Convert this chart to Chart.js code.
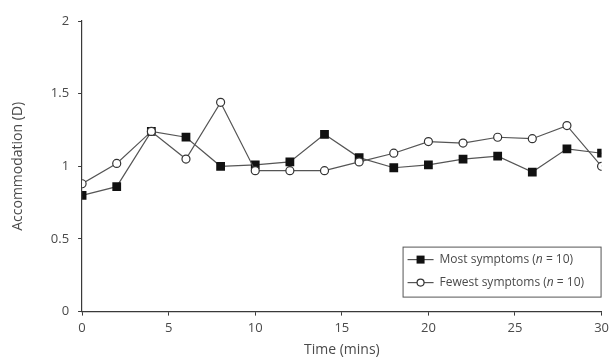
<!DOCTYPE html>
<html>
<head>
<meta charset="utf-8">
<script src="https://cdn.jsdelivr.net/npm/chart.js@4"></script>
<style>
  html, body { margin: 0; padding: 0; background: #fff; }
  #wrap { width: 614px; height: 363px; }
</style>
</head>
<body>
<div id="wrap"><canvas id="chart" width="614" height="363"></canvas></div>
<script>
const timeMins = [0, 2, 4, 6, 8, 10, 12, 14, 16, 18, 20, 22, 24, 26, 28, 30]
const mostSymptoms = [0.80, 0.86, 1.24, 1.20, 1.00, 1.01, 1.03, 1.22, 1.06, 0.99, 1.01, 1.05, 1.07, 0.96, 1.12, 1.09]
const fewestSymptoms = [0.88, 1.02, 1.24, 1.05, 1.44, 0.97, 0.97, 0.97, 1.03, 1.09, 1.17, 1.16, 1.20, 1.19, 1.28, 1.00]
const xTicks = [0, 5, 10, 15, 20, 25, 30]
const yTicks = [0, 0.5, 1, 1.5, 2]
const seriesLabels = ['Most symptoms', 'Fewest symptoms']

const FONT = '"Open Sans", "DejaVu Sans", sans-serif'
const TEXT = '#4a4a4a'
const AXIS = '#3a3a3a'

function toPoints(values) {
  return values.map((y, i) => ({ x: timeMins[i], y }))
}

// legend drawn by hand so the "n" can be italic
const boxLegend = {
  id: 'boxLegend',
  afterDatasetsDraw(chart) {
    const { ctx, chartArea } = chart
    const w = 198, h = 50
    const left = chartArea.right - w - 1
    const top = chartArea.bottom - h - 15
    ctx.save()
    ctx.fillStyle = '#fff'
    ctx.fillRect(left, top, w, h)
    ctx.strokeStyle = '#555'
    ctx.lineWidth = 1
    ctx.strokeRect(left + 0.5, top + 0.5, w, h)

    seriesLabels.forEach((label, i) => {
      const ds = chart.data.datasets.find(d => d.label === label)
      const y = top + 13 + i * 23
      const x0 = left + 5
      ctx.strokeStyle = ds.borderColor
      ctx.lineWidth = 1.2
      ctx.beginPath()
      ctx.moveTo(x0, y)
      ctx.lineTo(x0 + 26, y)
      ctx.stroke()
      const mx = x0 + 13
      ctx.fillStyle = ds.pointBackgroundColor
      ctx.strokeStyle = ds.pointBorderColor
      if (ds.pointStyle === 'rect') {
        ctx.fillRect(mx - 4, y - 4, 8, 8)
      } else {
        ctx.beginPath()
        ctx.arc(mx, y, 3.5, 0, Math.PI * 2)
        ctx.fill()
        ctx.stroke()
      }

      let tx = x0 + 32
      ctx.fillStyle = TEXT
      ctx.textBaseline = 'middle'
      const parts = [[label + ' (', false], ['n', true], [' = 10)', false]]
      parts.forEach(([txt, it]) => {
        ctx.font = (it ? 'italic ' : '') + '12px ' + FONT
        ctx.fillText(txt, tx, y)
        tx += ctx.measureText(txt).width
      })
    })
    ctx.restore()
  }
}

new Chart(document.getElementById('chart').getContext('2d'), {
  type: 'line',
  data: {
    datasets: [
      {
        label: seriesLabels[1],
        data: toPoints(fewestSymptoms),
        borderColor: '#555',
        borderWidth: 1.2,
        pointStyle: 'circle',
        pointRadius: 4,
        pointBorderWidth: 1.2,
        pointBackgroundColor: '#fff',
        pointBorderColor: '#333',
        order: 0
      },
      {
        label: seriesLabels[0],
        data: toPoints(mostSymptoms),
        borderColor: '#555',
        borderWidth: 1.2,
        pointStyle: 'rect',
        pointRadius: 6.2,
        pointBorderWidth: 0,
        pointBackgroundColor: '#111',
        pointBorderColor: '#111',
        order: 1
      }
    ]
  },
  options: {
    responsive: false,
    animation: false,
    layout: { padding: { top: 21, right: 0, bottom: 5, left: 10 } },
    plugins: {
      legend: { display: false },
      tooltip: { enabled: false }
    },
    scales: {
      x: {
        type: 'linear',
        min: 0,
        max: 30,
        afterBuildTicks: axis => { axis.ticks = xTicks.map(value => ({ value })) },
        grid: { drawOnChartArea: false, drawTicks: true, tickLength: 4, color: AXIS },
        border: { display: true, color: AXIS, width: 1.2 },
        ticks: { color: TEXT, font: { family: FONT, size: 13 }, padding: 5, maxRotation: 0 },
        title: { display: true, text: 'Time (mins)', color: TEXT, font: { family: FONT, size: 14 }, padding: { top: 0, bottom: 0 } }
      },
      y: {
        min: 0,
        max: 2,
        afterBuildTicks: axis => { axis.ticks = yTicks.map(value => ({ value })) },
        grid: { drawOnChartArea: false, drawTicks: true, tickLength: 4, color: AXIS },
        border: { display: true, color: AXIS, width: 1.2 },
        ticks: { color: TEXT, font: { family: FONT, size: 13 }, padding: 9, callback: v => String(v) },
        title: { display: true, text: 'Accommodation (D)', color: TEXT, font: { family: FONT, size: 14 }, padding: { top: 0, bottom: 15 } }
      }
    }
  },
  plugins: [boxLegend]
})
</script>
</body>
</html>
